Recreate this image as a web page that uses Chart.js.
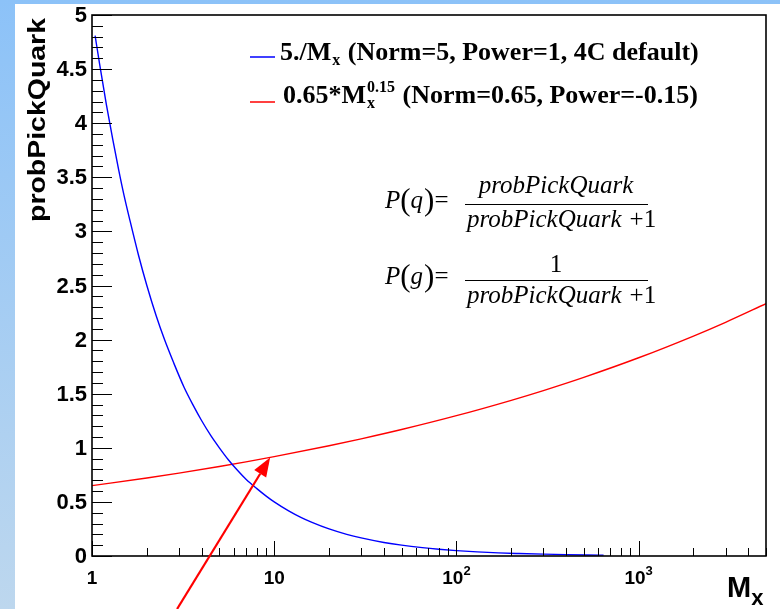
<!DOCTYPE html>
<html>
<head>
<meta charset="utf-8">
<script src="https://cdn.jsdelivr.net/npm/chart.js@4.4.0/dist/chart.umd.min.js"></script>
<style>
  html, body { margin: 0; padding: 0; background: #fff; }
  #wrap { width: 780px; height: 609px; }
  canvas { display: block; }
</style>
</head>
<body>
<div id="wrap"><canvas id="grafico" width="780" height="609"></canvas></div>
<script>
// Dados
const blueX = [1.04, 1.1, 1.2, 1.3, 1.4, 1.5, 1.6, 1.8, 2, 2.25, 2.5, 2.8, 3.2, 3.6, 4, 4.5, 5, 5.6, 6.3, 7, 8, 9, 10,
  12, 14, 16, 20, 25, 30, 40, 50, 65, 80, 100, 130, 170, 220, 300, 400, 520, 642];
const blueY = [4.81, 4.55, 4.17, 3.85, 3.57, 3.33, 3.13, 2.78, 2.5, 2.22, 2.0, 1.79, 1.56, 1.39, 1.25, 1.11, 1.0, 0.89, 0.79, 0.71, 0.625, 0.556, 0.5,
  0.417, 0.357, 0.313, 0.25, 0.2, 0.167, 0.125, 0.1, 0.077, 0.0625, 0.05, 0.038, 0.029, 0.023, 0.017, 0.0125, 0.0096, 0.0078];
const redX = [1, 2, 3, 5, 7, 10, 20, 30, 50, 100, 200, 300, 500, 1000, 2000, 3000, 5000];
const redY = [0.65, 0.721, 0.766, 0.827, 0.870, 0.918, 1.019, 1.083, 1.169, 1.297, 1.439, 1.529, 1.651, 1.832, 2.033, 2.160, 2.332];

const xRange = [1, 5000];
const yRange = [0, 5];
const yTicks = [0, 0.5, 1, 1.5, 2, 2.5, 3, 3.5, 4, 4.5, 5];
const yTickLabels = ['0', '0.5', '1', '1.5', '2', '2.5', '3', '3.5', '4', '4.5', '5'];
const xTicks = [1, 10, 100, 1000];
const xTickBase = ['1', '10', '10', '10'];
const xTickExp = ['', '', '2', '3'];
const yTitle = 'probPickQuark';
const xTitle = ['M', 'x'];

// legenda: [antes, subscrito, sobrescrito, depois]
const legendBlue = ['5./M', 'x', '', ' (Norm=5, Power=1, 4C default)'];
const legendRed = ['0.65*M', 'x', '0.15', ' (Norm=0.65, Power=-0.15)'];

const arrowTip = [9.5, 0.91];
const arrowTail = [2.93, -0.49];

const AZUL = '#0000ff';
const VERMELHO = '#ff0000';

function pts(xs, ys) {
  return xs.map((x, i) => ({ x, y: ys[i] }));
}

const rootStyle = {
  id: 'rootStyle',
  beforeDraw(chart) {
    const ctx = chart.ctx;
    const g = ctx.createLinearGradient(0, 0, 0, chart.height);
    g.addColorStop(0, '#8cc2f8');
    g.addColorStop(1, '#bdd7ee');
    ctx.save();
    ctx.fillStyle = g;
    ctx.fillRect(0, 0, chart.width, chart.height);
    ctx.fillStyle = '#fff';
    ctx.fillRect(15, 4, chart.width - 15, chart.height - 4);
    ctx.restore();
  },
  afterDraw(chart) {
    const ctx = chart.ctx;
    const xs = chart.scales.x, ys = chart.scales.y;
    const a = chart.chartArea;
    ctx.save();

    // moldura
    ctx.strokeStyle = '#000';
    ctx.lineWidth = 1.6;
    ctx.strokeRect(a.left, a.top, a.right - a.left, a.bottom - a.top);

    // ticks eixo y
    ctx.lineWidth = 1;
    ctx.beginPath();
    for (let i = 0; i <= 50; i++) {
      const py = Math.round(ys.getPixelForValue(i / 10)) + 0.5;
      const len = i % 5 === 0 ? 20 : 11;
      ctx.moveTo(a.left, py);
      ctx.lineTo(a.left + len, py);
    }
    // ticks eixo x (log)
    [1, 10, 100, 1000].forEach(d => {
      for (let k = 1; k <= 9; k++) {
        const v = k * d;
        if (v > xRange[1]) break;
        const px = Math.round(xs.getPixelForValue(v)) + 0.5;
        const len = k === 1 ? 15 : 8;
        ctx.moveTo(px, a.bottom);
        ctx.lineTo(px, a.bottom - len);
      }
    });
    ctx.stroke();

    // rótulos y
    ctx.fillStyle = '#000';
    ctx.font = 'bold 22px "Liberation Sans", Arial, sans-serif';
    ctx.textAlign = 'right';
    ctx.textBaseline = 'middle';
    yTicks.forEach((v, i) => {
      ctx.fillText(yTickLabels[i], a.left - 5, ys.getPixelForValue(v) + 1);
    });

    // rótulos x
    ctx.textAlign = 'left';
    ctx.textBaseline = 'alphabetic';
    xTicks.forEach((v, i) => {
      const px = xs.getPixelForValue(v);
      ctx.font = 'bold 19px "Liberation Sans", Arial, sans-serif';
      const wb = ctx.measureText(xTickBase[i]).width;
      ctx.font = 'bold 13px "Liberation Sans", Arial, sans-serif';
      const we = xTickExp[i] ? ctx.measureText(xTickExp[i]).width : 0;
      const x0 = px - (wb + we) / 2;
      ctx.font = 'bold 19px "Liberation Sans", Arial, sans-serif';
      ctx.fillText(xTickBase[i], x0, 584);
      if (xTickExp[i]) {
        ctx.font = 'bold 13px "Liberation Sans", Arial, sans-serif';
        ctx.fillText(xTickExp[i], x0 + wb, 575);
      }
    });

    // título eixo x
    ctx.font = 'bold 29px "Liberation Sans", Arial, sans-serif';
    ctx.fillText(xTitle[0], 727, 597);
    const wm = ctx.measureText(xTitle[0]).width;
    ctx.font = 'bold 22px "Liberation Sans", Arial, sans-serif';
    ctx.fillText(xTitle[1], 727 + wm, 605);

    // título eixo y (rotacionado e esticado)
    ctx.save();
    ctx.font = 'bold 24px "Liberation Sans", Arial, sans-serif';
    const wt = ctx.measureText(yTitle).width;
    ctx.translate(45, 120);
    ctx.rotate(-Math.PI / 2);
    ctx.scale(204 / wt, 1);
    ctx.textAlign = 'center';
    ctx.fillText(yTitle, 0, 0);
    ctx.restore();

    // legenda
    drawLegendRow(ctx, legendBlue, AZUL, 57, 280, 60);
    drawLegendRow(ctx, legendRed, VERMELHO, 102, 283, 103);

    // fórmulas
    drawFormula(ctx, 'q', true, 204);
    drawFormula(ctx, 'g', false, 280);

    // seta
    const tx = xs.getPixelForValue(arrowTip[0]), ty = ys.getPixelForValue(arrowTip[1]);
    const sx = xs.getPixelForValue(arrowTail[0]), sy = ys.getPixelForValue(arrowTail[1]);
    const ang = Math.atan2(ty - sy, tx - sx);
    const hl = 19, hw = 7;
    const bx = tx - hl * Math.cos(ang), by = ty - hl * Math.sin(ang);
    ctx.strokeStyle = VERMELHO;
    ctx.fillStyle = VERMELHO;
    ctx.lineWidth = 2.2;
    ctx.beginPath();
    ctx.moveTo(sx, sy);
    ctx.lineTo(bx, by);
    ctx.stroke();
    ctx.beginPath();
    ctx.moveTo(tx, ty);
    ctx.lineTo(bx + hw * Math.sin(ang), by - hw * Math.cos(ang));
    ctx.lineTo(bx - hw * Math.sin(ang), by + hw * Math.cos(ang));
    ctx.closePath();
    ctx.fill();

    ctx.restore();
  }
};

function drawLegendRow(ctx, parts, color, lineY, textX, baseY) {
  ctx.save();
  ctx.strokeStyle = color;
  ctx.lineWidth = 1.5;
  ctx.beginPath();
  ctx.moveTo(250, lineY);
  ctx.lineTo(275, lineY);
  ctx.stroke();
  ctx.fillStyle = '#000';
  ctx.textAlign = 'left';
  ctx.textBaseline = 'alphabetic';
  const big = 'bold 26px "Liberation Serif", "Times New Roman", serif';
  const small = 'bold 16px "Liberation Serif", "Times New Roman", serif';
  let x = textX;
  ctx.font = big;
  ctx.fillText(parts[0], x, baseY);
  x += ctx.measureText(parts[0]).width;
  ctx.font = small;
  let w = 0;
  if (parts[1]) { ctx.fillText(parts[1], x + 1, baseY + 5); w = ctx.measureText(parts[1]).width; }
  if (parts[2]) { ctx.fillText(parts[2], x + 1, baseY - 11); w = Math.max(w, ctx.measureText(parts[2]).width); }
  x += w + 2;
  ctx.font = big;
  ctx.fillText(parts[3], x, baseY);
  ctx.restore();
}

function drawFormula(ctx, letra, comNumerador, lineY) {
  ctx.save();
  ctx.fillStyle = '#000';
  ctx.strokeStyle = '#000';
  ctx.textBaseline = 'alphabetic';
  const it = 'italic 25px "Liberation Serif", "Times New Roman", serif';
  const up = '25px "Liberation Serif", "Times New Roman", serif';
  const par = '31px "Liberation Serif", "Times New Roman", serif';
  const base = lineY + 4;
  let x = 385;
  ctx.textAlign = 'left';
  ctx.font = it; ctx.fillText('P', x, base); x += ctx.measureText('P').width;
  ctx.font = par; ctx.fillText('(', x, base + 2); x += ctx.measureText('(').width;
  ctx.font = it; ctx.fillText(letra, x, base); x += ctx.measureText(letra).width + 1;
  ctx.font = par; ctx.fillText(')', x, base + 2); x += ctx.measureText(')').width;
  ctx.font = up; ctx.fillText('=', x, base);

  // traço da fração
  ctx.lineWidth = 1.2;
  ctx.beginPath();
  ctx.moveTo(465, lineY + 0.5);
  ctx.lineTo(648, lineY + 0.5);
  ctx.stroke();

  // numerador
  ctx.textAlign = 'center';
  if (comNumerador) {
    ctx.font = it; ctx.fillText('probPickQuark', 556, lineY - 11);
  } else {
    ctx.font = up; ctx.fillText('1', 556, lineY - 8);
  }
  // denominador
  ctx.textAlign = 'left';
  ctx.font = it;
  ctx.fillText('probPickQuark', 467, lineY + 23);
  const wd = ctx.measureText('probPickQuark').width;
  ctx.font = up;
  ctx.fillText('+1', 467 + wd + 8, lineY + 23);
  ctx.restore();
}

const chart = new Chart(document.getElementById('grafico').getContext('2d'), {
  type: 'line',
  data: {
    datasets: [
      {
        label: legendBlue.join(''),
        data: pts(blueX, blueY),
        borderColor: AZUL,
        borderWidth: 1.4,
        pointRadius: 0,
        cubicInterpolationMode: 'monotone',
        fill: false
      },
      {
        label: legendRed.join(''),
        data: pts(redX, redY),
        borderColor: VERMELHO,
        borderWidth: 1.4,
        pointRadius: 0,
        cubicInterpolationMode: 'monotone',
        fill: false
      }
    ]
  },
  options: {
    responsive: false,
    devicePixelRatio: 1,
    animation: false,
    layout: { padding: { left: 92, top: 15, right: 14, bottom: 53 } },
    plugins: { legend: { display: false }, tooltip: { enabled: false } },
    scales: {
      x: { type: 'logarithmic', min: xRange[0], max: xRange[1], display: false },
      y: { type: 'linear', min: yRange[0], max: yRange[1], display: false }
    }
  },
  plugins: [rootStyle]
});
</script>
</body>
</html>
